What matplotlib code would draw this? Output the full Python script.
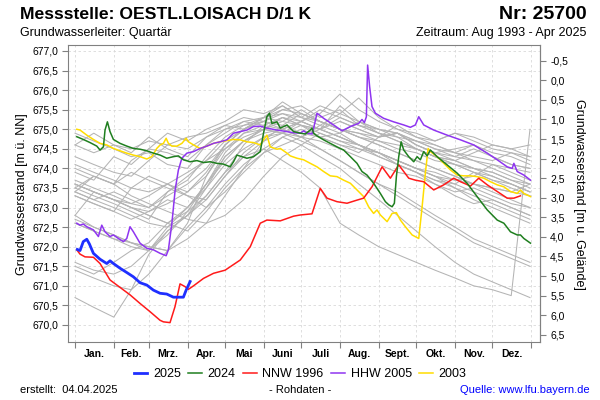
import matplotlib
matplotlib.use('Agg')
import matplotlib.pyplot as plt
from matplotlib.ticker import FixedLocator, FixedFormatter, NullFormatter

plt.rcParams['font.family'] = ['Liberation Sans', 'DejaVu Sans']

# Monate (Tag im Jahr, 0 = 1. Januar)
month_names = ['Jan.', 'Feb.', 'Mrz.', 'Apr.', 'Mai', 'Juni', 'Juli',
               'Aug.', 'Sept.', 'Okt.', 'Nov.', 'Dez.']
month_starts = [0, 31, 59, 90, 120, 151, 181, 212, 243, 273, 304, 334, 365]

gelaende = 676.25  # Gelaendehoehe [m ue. NN]

# ---- hervorgehobene Jahre ----
d2025 = [1.8, 4, 6.6, 9.4, 11.5, 14.7, 20, 25.4, 28, 30.7, 36, 41.4, 46.7, 52,
         57.4, 62.7, 68, 73.4, 78.7, 86.7, 88.9, 92.1]
w2025 = [671.93, 671.90, 672.13, 672.19, 672.07, 671.83, 671.68, 671.57, 671.64,
         671.57, 671.45, 671.34, 671.23, 671.08, 671.02, 670.89, 670.81, 670.79,
         670.71, 670.71, 670.89, 671.11]

d2024 = [1.4, 6.6, 12, 17.4, 20, 22.7, 24, 25.9, 28, 30.7, 36, 41.4, 46.7, 52.1,
         57.4, 62.7, 68.1, 73.4, 78.7, 82.7, 86.7, 92.1, 97.5, 102.8, 108.1, 113.5,
         118.8, 124.1, 126.8, 129.5, 133.5, 137.5, 142.8, 148.2, 150.8, 153.5, 155.6,
         157.5, 161.6, 164.2, 169.6, 174.9, 180.2, 184.2, 188.2, 189.6, 190.9, 193.6,
         198.9, 204.2, 209.6, 214.9, 220.3, 225.6, 229.6, 233.6, 238.9, 244.3, 248.3,
         251, 253.7, 255.5, 257.1, 259, 260.9, 263, 267, 271, 273.7, 276.3, 279,
         281.7, 284.3, 289.7, 297.7, 305.7, 313.7, 321.7, 329.8, 337.8, 343.1, 348.4,
         353.8, 356.4, 359.1, 364.4]
w2024 = [674.81, 674.74, 674.66, 674.57, 674.47, 674.55, 674.98, 675.19, 674.94,
         674.74, 674.64, 674.57, 674.51, 674.49, 674.45, 674.39, 674.34, 674.26,
         674.30, 674.32, 674.22, 674.17, 674.20, 674.15, 674.17, 674.13, 674.11,
         674.04, 674.17, 674.34, 674.30, 674.26, 674.30, 674.43, 674.90, 675.32,
         675.41, 675.15, 675.19, 675.03, 675.11, 674.94, 674.90, 674.88, 674.98,
         675.03, 674.90, 674.83, 674.73, 674.64, 674.55, 674.47, 674.30, 674.13,
         673.92, 673.83, 673.62, 673.36, 673.15, 673.07, 673.02, 673.11, 673.79,
         674.30, 674.68, 674.47, 674.30, 674.17, 674.30, 674.22, 674.43, 674.32,
         674.47, 674.30, 674.09, 673.88, 673.62, 673.28, 672.94, 672.68, 672.60,
         672.38, 672.30, 672.30, 672.21, 672.09]

d1996 = [1.4, 4, 8, 14.7, 20, 28, 36, 44, 52, 60, 68, 70.7, 76, 80, 84, 88, 90.7,
         94.8, 102.8, 110.8, 120.1, 132.2, 140.2, 148.2, 153.5, 164.2, 174.9, 180.2,
         189.6, 196.2, 201.6, 209.6, 217.6, 225.6, 230.9, 237.6, 245.7, 252.3, 259,
         267, 272.3, 279, 287, 295, 303, 308.4, 316.4, 323, 329.8, 337.8, 345.8,
         351.1, 356.4]
w1996 = [671.92, 671.81, 671.74, 671.73, 671.57, 671.15, 670.96, 670.77, 670.55,
         670.34, 670.12, 670.08, 670.06, 670.47, 671.05, 670.98, 670.91, 671.00,
         671.19, 671.32, 671.40, 671.66, 672.00, 672.60, 672.68, 672.66, 672.78,
         672.81, 672.84, 673.49, 673.24, 673.15, 673.11, 673.19, 673.24, 673.53,
         674.04, 673.75, 674.09, 673.75, 673.70, 673.66, 673.45, 673.58, 673.75,
         673.66, 673.55, 673.75, 673.58, 673.41, 673.24, 673.24, 673.30]

d2005 = [1.4, 4, 6.6, 9.4, 14.7, 18.7, 21.4, 24, 28, 30.7, 34.7, 38.7, 41.4, 44,
         46.7, 52, 57.4, 62.7, 68.1, 72.9, 74.7, 77.5, 80.1, 82.7, 85.5, 89.5, 94.8,
         100.1, 105.5, 110.8, 116.1, 121.5, 126.8, 132.2, 137.5, 142.8, 148.2, 153.5,
         161.6, 169.6, 174.9, 180.2, 182.9, 185.6, 189.6, 190.9, 193.6, 198.9, 206.9,
         213.6, 220.3, 226.9, 229.6, 231.5, 233.1, 234.1, 235.7, 237.6, 240.3, 246.9,
         254.9, 263, 268.3, 272.3, 275, 279, 287, 297.7, 308.4, 319, 329.8, 337.8,
         345.8, 349.8, 351.1, 353.8, 359.1, 364.4]
w2005 = [672.60, 672.55, 672.58, 672.51, 672.43, 672.26, 672.55, 672.38, 672.26,
         672.30, 672.21, 672.13, 672.21, 672.51, 672.38, 672.09, 671.96, 671.92,
         671.83, 671.77, 671.92, 672.60, 673.45, 673.96, 674.26, 674.39, 674.43,
         674.51, 674.57, 674.64, 674.68, 674.73, 674.90, 674.94, 674.98, 675.07,
         675.08, 675.03, 674.98, 674.94, 674.91, 674.90, 674.96, 674.90, 674.88,
         675.03, 675.41, 675.28, 675.11, 674.96, 675.07, 675.15, 675.25, 675.17,
         675.32, 676.64, 676.09, 675.58, 675.41, 675.28, 675.19, 675.11, 675.05,
         675.11, 675.32, 675.11, 674.98, 674.85, 674.73, 674.60, 674.39, 674.22,
         674.04, 674.00, 674.13, 673.92, 673.83, 673.70]

d2003 = [1.4, 4, 9.4, 14.7, 20, 25.4, 30.7, 36, 41.4, 46.7, 52.1, 57.4, 61.4, 65.4,
         68.1, 70.7, 72.9, 74.7, 77.5, 81.5, 85.5, 88.9, 90.7, 94.8, 100.1, 105.5,
         110.8, 116.1, 121.5, 126.8, 132.2, 137.5, 142.8, 148.2, 150.8, 153.5, 156.2,
         161.6, 164.2, 169.6, 172.2, 177.6, 182.9, 188.2, 193.6, 198.9, 204.2, 209.6,
         214.9, 220.3, 225.6, 230.9, 234.9, 238.9, 241.6, 244.3, 249.7, 253.7, 257.1,
         260.3, 264.3, 269.7, 275, 277.7, 280.3, 282.5, 284.3, 289.7, 295, 300.4,
         305.7, 311, 316.4, 321.7, 327.1, 332.4, 337.8, 343.1, 348.4, 353.8, 356.4,
         359.1, 364.4]
w2003 = [675.00, 674.98, 674.85, 674.74, 674.64, 674.60, 674.51, 674.45, 674.39,
         674.34, 674.30, 674.24, 674.30, 674.51, 674.60, 674.64, 674.77, 674.64,
         674.57, 674.57, 674.64, 674.77, 674.68, 674.60, 674.51, 674.57, 674.64,
         674.68, 674.71, 674.74, 674.73, 674.68, 674.66, 674.60, 674.73, 674.85,
         674.55, 674.49, 674.51, 674.39, 674.32, 674.26, 674.22, 674.13, 674.04,
         673.92, 673.81, 673.79, 673.70, 673.62, 673.45, 673.28, 673.02, 672.85,
         672.94, 672.81, 672.64, 672.85, 672.87, 672.68, 672.51, 672.30, 672.21,
         673.02, 673.88, 674.51, 674.43, 674.30, 674.13, 673.96, 673.83, 673.81,
         673.81, 673.79, 673.75, 673.66, 673.58, 673.53, 673.41, 673.36, 673.45,
         673.36, 673.28]

grey_days = [0, 15, 31, 45, 59, 74, 90, 105, 120, 135, 151, 166, 181, 196, 212,
             227, 243, 258, 273, 288, 304, 319, 334, 349, 364]
d1993 = [212, 227, 243, 258, 273, 288, 304, 319, 334, 349, 364]
y1993 = [675.2, 675.0, 674.8, 674.9, 674.6, 674.4, 674.3, 674.5, 674.3, 674.1, 674.0]
y1994 = [674.9, 674.7, 674.5, 674.3, 674.4, 674.1, 674.0, 674.6, 675.0, 675.2, 675.3, 675.4, 675.2,
         675.5, 675.3, 675.1, 675.0, 674.8, 674.7, 674.5, 674.4, 674.3, 674.2, 674.4, 674.2]
y1995 = [674.6, 674.9, 674.6, 674.4, 674.8, 674.5, 674.3, 674.8, 675.1, 675.0, 675.3, 675.6, 675.3,
         675.1, 675.4, 675.2, 675.0, 674.9, 674.7, 674.6, 674.4, 674.6, 674.4, 674.3, 674.1]
y1997 = [674.1, 673.9, 673.7, 673.5, 673.4, 673.6, 673.4, 673.8, 674.5, 674.9, 675.1, 675.0, 675.2,
         675.0, 674.8, 674.6, 674.4, 674.2, 674.0, 673.8, 673.7, 673.6, 673.5, 673.4, 673.3]
y1998 = [673.3, 673.1, 672.9, 672.7, 672.9, 673.2, 673.0, 673.6, 674.4, 674.9, 675.0, 674.9, 675.1,
         674.8, 674.6, 674.4, 674.8, 674.9, 674.6, 674.4, 674.5, 674.6, 674.3, 674.1, 674.0]
y1999 = [674.0, 673.8, 673.6, 674.2, 674.5, 674.9, 674.7, 675.0, 675.2, 675.5, 675.4, 675.6, 675.3,
         675.2, 675.0, 674.9, 674.7, 674.6, 674.5, 674.3, 674.2, 674.4, 674.6, 674.5, 674.6]
y2000 = [674.6, 674.4, 674.6, 674.5, 674.7, 674.6, 674.5, 674.8, 675.0, 675.1, 675.2, 675.4, 675.3,
         675.6, 675.4, 675.8, 675.3, 675.0, 674.9, 674.7, 674.9, 674.7, 674.5, 674.4, 674.3]
y2001 = [674.3, 674.1, 673.9, 673.8, 674.2, 674.6, 674.8, 674.9, 675.1, 675.3, 675.2, 675.5, 675.4,
         675.2, 675.0, 674.9, 674.8, 675.1, 674.8, 674.6, 674.4, 674.2, 674.1, 674.0, 673.9]
y2002 = [673.9, 673.7, 674.3, 674.1, 674.5, 674.4, 674.2, 674.6, 674.9, 675.2, 675.1, 675.3, 675.2,
         675.4, 675.9, 675.5, 675.2, 675.0, 674.8, 674.7, 674.9, 674.8, 674.6, 674.5, 674.3]
y2004 = [673.4, 673.2, 673.0, 672.8, 672.6, 672.5, 672.8, 673.5, 674.3, 674.7, 674.9, 675.0, 674.8,
         674.7, 674.5, 674.3, 674.1, 673.9, 673.8, 673.6, 673.4, 673.5, 673.3, 673.1, 673.0]
y2006 = [672.6, 672.4, 672.2, 672.1, 672.0, 671.9, 672.6, 673.8, 674.6, 675.0, 675.2, 675.1, 674.9,
         674.8, 674.9, 675.2, 674.9, 674.7, 674.5, 674.3, 674.1, 673.9, 673.7, 673.6, 673.4]
y2007 = [673.5, 673.8, 673.6, 673.9, 673.7, 673.5, 673.3, 673.2, 673.8, 674.4, 674.8, 675.0, 675.2,
         675.0, 675.6, 675.2, 675.0, 674.9, 674.7, 674.5, 674.3, 674.2, 674.0, 673.8, 673.6]
y2008 = [673.6, 673.4, 673.2, 673.1, 673.3, 673.6, 673.9, 674.2, 674.5, 674.8, 675.0, 675.2, 675.1,
         675.0, 675.3, 675.1, 674.9, 674.8, 674.5, 674.3, 674.2, 674.0, 673.9, 673.7, 673.5]
y2009 = [673.5, 673.3, 673.1, 672.9, 672.7, 673.4, 673.7, 674.3, 674.8, 675.1, 675.3, 675.2, 675.5,
         675.2, 675.0, 674.8, 674.6, 674.4, 674.2, 674.0, 673.8, 673.6, 673.5, 673.4, 673.6]
y2010 = [673.6, 673.4, 673.2, 673.0, 672.9, 673.1, 673.4, 673.9, 674.6, 675.0, 675.3, 675.5, 675.6,
         675.3, 675.5, 675.1, 674.9, 674.7, 674.5, 674.3, 674.1, 673.9, 673.8, 673.6, 673.4]
y2011 = [673.4, 673.8, 673.6, 673.3, 673.1, 672.9, 672.7, 672.6, 672.8, 673.2, 673.8, 674.3, 674.6,
         674.9, 674.7, 674.5, 674.4, 674.2, 674.0, 673.8, 673.5, 673.2, 673.0, 672.8, 672.6]
y2012 = [672.6, 672.4, 672.2, 672.0, 671.9, 672.3, 672.9, 673.6, 674.3, 674.7, 675.0, 674.9, 675.2,
         675.0, 674.8, 674.6, 674.4, 674.2, 674.0, 673.9, 673.7, 673.8, 674.1, 673.9, 673.7]
y2013 = [673.7, 673.5, 673.3, 673.1, 673.0, 673.3, 673.6, 674.0, 674.6, 675.0, 675.3, 675.7, 675.4,
         675.2, 675.0, 674.8, 674.7, 674.5, 674.4, 674.2, 674.1, 674.0, 673.9, 673.7, 673.6]
y2014 = [673.6, 673.4, 673.2, 673.0, 672.8, 672.6, 672.4, 672.9, 673.5, 674.0, 674.4, 674.6, 674.8,
         675.0, 675.2, 675.0, 674.8, 674.9, 674.6, 674.4, 674.2, 674.0, 673.8, 673.6, 673.4]
y2015 = [673.4, 673.2, 673.4, 673.2, 673.0, 673.4, 673.8, 674.2, 674.7, 675.0, 675.2, 675.0, 674.8,
         674.5, 674.2, 673.9, 673.6, 673.4, 673.1, 672.8, 672.5, 672.2, 672.0, 671.8, 671.6]
y2016 = [671.6, 671.4, 671.3, 671.5, 671.9, 672.5, 673.0, 673.6, 674.2, 674.7, 675.0, 675.3, 675.1,
         675.0, 674.8, 674.6, 674.4, 674.2, 674.0, 673.8, 673.6, 673.4, 673.2, 673.0, 672.8]
y2017 = [672.8, 672.5, 672.3, 672.1, 671.9, 672.4, 672.8, 673.2, 673.8, 674.3, 674.7, 674.9, 674.8,
         675.1, 674.9, 674.6, 674.3, 674.1, 673.9, 673.6, 673.3, 673.1, 673.2, 673.0, 672.8]
y2018 = [672.8, 673.4, 673.2, 673.0, 672.8, 672.6, 673.0, 673.5, 674.1, 674.5, 674.8, 674.9, 674.7,
         674.5, 674.2, 673.9, 673.6, 673.3, 673.0, 672.7, 672.4, 672.1, 671.9, 671.7, 671.5]
y2019 = [671.5, 671.3, 671.6, 671.9, 672.1, 672.6, 672.9, 673.3, 673.9, 674.6, 675.1, 675.3, 675.1,
         674.9, 674.7, 674.6, 674.4, 674.1, 673.9, 673.7, 673.6, 673.9, 673.7, 673.5, 673.3]
y2020 = [673.3, 673.1, 672.9, 673.5, 673.8, 673.6, 673.3, 673.0, 673.4, 673.9, 674.4, 674.8, 675.0,
         674.8, 674.6, 674.5, 674.3, 674.1, 673.9, 673.7, 673.5, 673.3, 673.1, 672.9, 672.7]
y2021 = [672.7, 672.5, 672.3, 672.1, 672.0, 671.9, 672.2, 672.6, 673.3, 674.0, 674.7, 675.1, 675.4,
         675.2, 675.0, 674.8, 674.6, 674.4, 674.2, 674.0, 673.8, 673.6, 673.4, 673.2, 673.0]
y2022 = [671.4, 671.2, 671.0, 670.9, 671.3, 671.9, 672.5, 673.0, 673.6, 674.1, 674.5, 674.8, 674.6,
         674.3, 674.0, 673.6, 673.2, 672.8, 672.4, 672.0, 671.6, 671.3, 671.1, 670.9, 670.7]
y2023 = [670.7, 670.45, 670.2, 670.9, 671.8, 672.4, 672.8, 673.3, 673.9, 674.3, 674.5, 674.2, 673.9,
         673.5, 672.6, 672.3, 672.0, 671.8, 671.6, 671.4, 671.2, 671.0, 670.9, 670.75, 675.0]

grey_years = [y1994, y1995, y1997, y1998, y1999, y2000, y2001, y2002, y2004, y2006,
              y2007, y2008, y2009, y2010, y2011, y2012, y2013, y2014, y2015, y2016,
              y2017, y2018, y2019, y2020, y2021, y2022, y2023]

left_ticks = [670.0 + 0.5 * i for i in range(15)]
right_ticks = [-0.5 + 0.5 * i for i in range(15)]


def komma(v):
    return ('%.1f' % (round(v, 1) + 0.0)).replace('.', ',')


fig = plt.figure(figsize=(6, 4), dpi=100)
ax = fig.add_axes([0.1138, 0.145, 0.787, 0.7425])

# graue Jahresgaenge
grau = '#b4b4b4'
ax.plot(d1993, y1993, color=grau, lw=0.75, zorder=2)
for vals in grey_years:
    ax.plot(grey_days, vals, color=grau, lw=0.75, zorder=2)

ax.plot(d2003, w2003, color='#ffdd00', lw=1.1, zorder=3, label='2003')
ax.plot(d2005, w2005, color='#8f35f0', lw=1.1, zorder=3, label='HHW 2005')
ax.plot(d1996, w1996, color='#ff1a1a', lw=1.1, zorder=3, label='NNW 1996')
ax.plot(d2024, w2024, color='#1f7f1f', lw=1.1, zorder=4, label='2024')
ax.plot(d2025, w2025, color='#1f2fff', lw=2.0, zorder=5, label='2025')

ax.set_xlim(-5.4, 372.4)
ax.set_ylim(669.565, 677.153)

# x-Achse: Striche an Monatsanfaengen, Beschriftung in Monatsmitte
mids = [(month_starts[i] + month_starts[i + 1]) / 2 for i in range(12)]
ax.xaxis.set_major_locator(FixedLocator(month_starts))
ax.xaxis.set_major_formatter(NullFormatter())
ax.xaxis.set_minor_locator(FixedLocator(mids))
ax.xaxis.set_minor_formatter(FixedFormatter(month_names))
ax.tick_params(axis='x', which='major', length=4, color='#808080')
ax.tick_params(axis='x', which='minor', length=0, pad=5, labelsize=7.5)
for lab in ax.xaxis.get_minorticklabels():
    lab.set_fontweight('bold')

ax.yaxis.set_major_locator(FixedLocator(left_ticks))
ax.set_yticklabels([komma(v) for v in left_ticks])
ax.tick_params(axis='y', length=4, color='#808080', labelsize=7.5, pad=3)

ax.grid(True, which='major', color='#d9d9d9', linestyle=(0, (3, 3)), lw=0.6)
for sp in ax.spines.values():
    sp.set_color('#808080')

# rechte Achse: Flurabstand
sec = ax.secondary_yaxis('right', functions=(lambda v: gelaende - v, lambda d: gelaende - d))
sec.yaxis.set_major_locator(FixedLocator(right_ticks))
sec.set_yticklabels([komma(v) for v in right_ticks])
sec.tick_params(axis='y', length=4, color='#808080', labelsize=7.5, pad=3)
sec.spines['right'].set_color('#808080')

# Texte
fig.text(0.033, 0.964, 'Messstelle: OESTL.LOISACH D/1 K', fontsize=12.6,
         fontweight='bold', va='center', ha='left')
fig.text(0.978, 0.964, 'Nr: 25700', fontsize=14, fontweight='bold',
         va='center', ha='right')
fig.text(0.033, 0.917, 'Grundwasserleiter: Quartär', fontsize=9, va='center')
fig.text(0.978, 0.917, 'Zeitraum: Aug 1993 - Apr 2025', fontsize=9,
         va='center', ha='right')
fig.text(0.037, 0.515, 'Grundwasserstand [m ü. NN]', fontsize=9,
         rotation=90, va='center', ha='center')
fig.text(0.965, 0.515, 'Grundwasserstand [m u. Gelände]', fontsize=9,
         rotation=270, va='center', ha='center')

handles, labels = ax.get_legend_handles_labels()
order = ['2025', '2024', 'NNW 1996', 'HHW 2005', '2003']
hl = dict(zip(labels, handles))
fig.legend([hl[k] for k in order], order, loc='center', ncol=5,
           bbox_to_anchor=(0.5, 0.065), frameon=False, fontsize=9,
           handlelength=1.1, handletextpad=0.45, columnspacing=0.6)

fig.text(0.033, 0.025, 'erstellt:  04.04.2025', fontsize=8, va='center')
fig.text(0.5, 0.025, '- Rohdaten -', fontsize=8, va='center', ha='center')
fig.text(0.983, 0.025, 'Quelle: www.lfu.bayern.de', fontsize=8, va='center',
         ha='right', color='#0000ff')

fig.savefig('out.png', dpi=100)
